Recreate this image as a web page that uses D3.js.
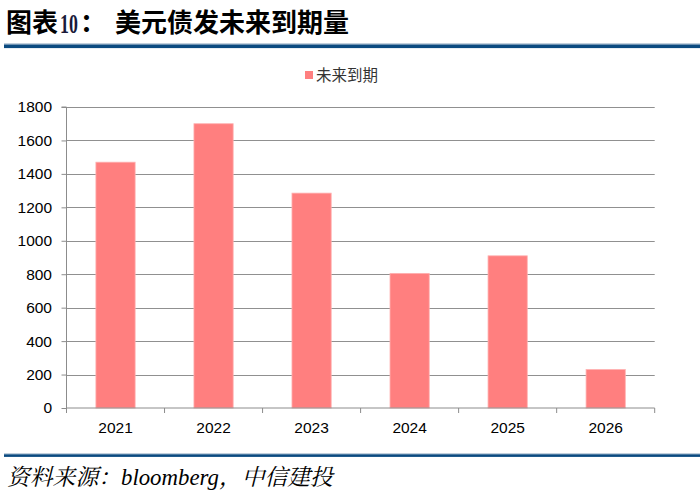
<!DOCTYPE html>
<html><head><meta charset="utf-8">
<script src="https://cdn.jsdelivr.net/npm/d3@7"></script>
<style>body{margin:0;background:#fff;} svg{display:block;}</style>
</head><body>
<script>
const categories = ["2021","2022","2023","2024","2025","2026"];
const values = [1470, 1700, 1285, 805, 910, 230];
const yTicks = [0,200,400,600,800,1000,1200,1400,1600,1800];
const seriesName = "未来到期";
const titleLabel = "图表";
const titleNum = "10";
const titleColon = "：";
const titleMain = "美元债发未来到期量";
const sourceText = "资料来源：bloomberg，中信建投";

(function () {
const W = 700, H = 500;
const svg = d3.select("body").append("svg").attr("width", W).attr("height", H);
const pL = 66.5, pR = 654.7, pT = 107, pB = 408;

// Title
const tg = svg.append("g").attr("font-weight", "bold").attr("fill", "#000");
tg.append("text").attr("x", 6).attr("y", 32).attr("font-size", 26).attr("font-family", "Noto Sans CJK SC").text(titleLabel);
tg.append("text").attr("transform", "translate(60,33) scale(0.66,1)").attr("font-size", 27)
  .attr("font-family", "Liberation Serif").attr("fill", "#1a1a3a").text(titleNum);
tg.append("text").attr("x", 80).attr("y", 32).attr("font-size", 26).attr("font-family", "Noto Sans CJK SC").text(titleColon);
tg.append("text").attr("x", 115).attr("y", 32).attr("font-size", 26).attr("font-family", "Noto Sans CJK SC").text(titleMain);

// rules
svg.append("rect").attr("x", 4).attr("y", 43.3).attr("width", W - 4).attr("height", 1.2).attr("fill", "#a9bccf");
svg.append("rect").attr("x", 4).attr("y", 44.5).attr("width", W - 4).attr("height", 3.6).attr("fill", "#0b4a80");
svg.append("rect").attr("x", 4).attr("y", 453.3).attr("width", W - 4).attr("height", 1).attr("fill", "#a9bccf");
svg.append("rect").attr("x", 4).attr("y", 454.3).attr("width", W - 4).attr("height", 2.6).attr("fill", "#0b4a80");

svg.append("text").attr("x", 7).attr("y", 485)
  .attr("font-family", "Liberation Serif, Noto Serif CJK SC, serif").attr("font-style", "italic")
  .attr("font-size", 22.8).attr("fill", "#000").text(sourceText);

const x = d3.scaleBand().domain(categories).range([pL, pR]).paddingInner(0.6).paddingOuter(0.3);
const y = d3.scaleLinear().domain([0, 1800]).range([pB, pT]);

// gridlines
svg.append("g").selectAll("line").data(yTicks.filter(d => d > 0)).join("line")
  .attr("x1", pL).attr("x2", pR)
  .attr("y1", d => Math.round(y(d)) + 0.5).attr("y2", d => Math.round(y(d)) + 0.5)
  .attr("stroke", "#909090").attr("stroke-width", 1.2);

// bars
svg.append("g").selectAll("rect").data(values).join("rect")
  .attr("x", (d, i) => x(categories[i]))
  .attr("width", x.bandwidth())
  .attr("y", d => y(d))
  .attr("height", d => pB - y(d))
  .attr("fill", "#ff7f7f").attr("stroke", "#ffb0b0").attr("stroke-width", 0.8);

// y axis
const yAxis = d3.axisLeft(y).tickValues(yTicks).tickSize(5).tickPadding(9.5).tickFormat(d3.format("d"));
const gy = svg.append("g").attr("transform", `translate(${pL},0)`).call(yAxis);
gy.select(".domain").attr("stroke", "#8c8c8c").attr("d", `M-5,${pT}H0V${pB}`);
gy.selectAll(".tick line").attr("stroke", "#8c8c8c");
gy.selectAll("text").attr("font-family", "Liberation Sans, Arial, sans-serif").attr("font-size", 15.5).attr("fill", "#000");

// x axis
const xb = d3.scaleLinear().domain([0, categories.length]).range([pL, pR]);
const xAxis = d3.axisBottom(x).tickSize(0);
const gx = svg.append("g").attr("transform", `translate(0,${pB})`).call(xAxis);
gx.select(".domain").attr("stroke", "#8c8c8c").attr("d", `M${pL},0H${pR}`);
gx.selectAll("text").attr("y", 25).attr("dy", 0)
  .attr("font-family", "Liberation Sans, Arial, sans-serif").attr("font-size", 15.5).attr("fill", "#000");
svg.append("g").selectAll("line").data(d3.range(categories.length + 1)).join("line")
  .attr("x1", d => xb(d)).attr("x2", d => xb(d)).attr("y1", pB).attr("y2", pB + 5)
  .attr("stroke", "#8c8c8c");

// legend
svg.append("rect").attr("x", 305).attr("y", 71).attr("width", 8).attr("height", 8).attr("fill", "#ff7f7f");
svg.append("text").attr("x", 316).attr("y", 81).attr("font-family", "Noto Sans CJK SC").attr("font-size", 15.5)
  .attr("fill", "#333").text(seriesName);
})();
</script>
</body></html>
